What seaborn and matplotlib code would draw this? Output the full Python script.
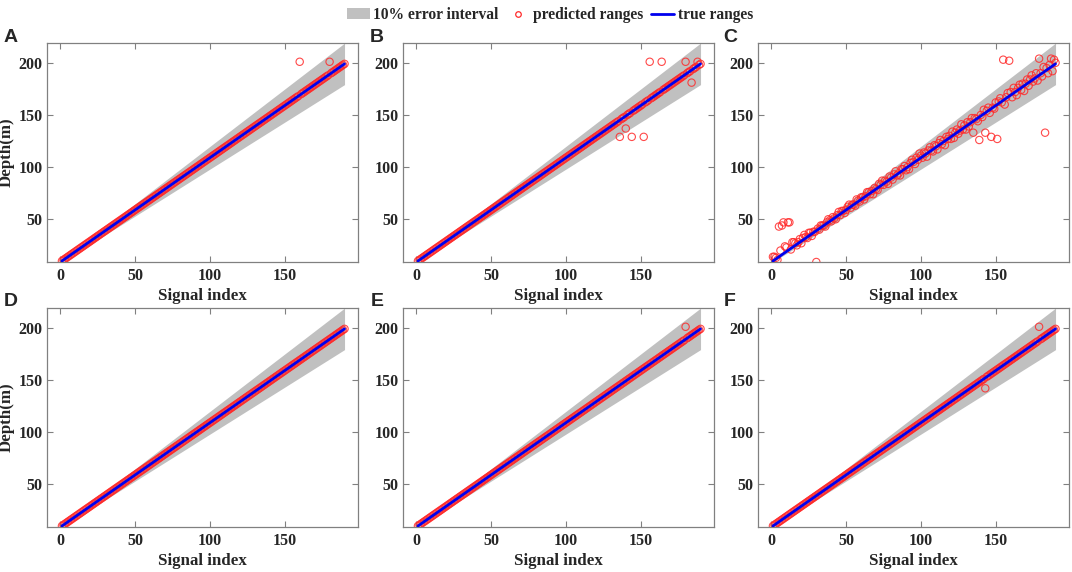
import numpy as np
import pandas as pd
import matplotlib
matplotlib.use("Agg")
import matplotlib.pyplot as plt
from matplotlib.patches import Patch
from matplotlib.lines import Line2D
import seaborn as sns

# true ranges: one depth per signal (m)
signal_index = list(range(1, 191))
true_depth = list(range(10, 200))

# predicted ranges sit on the true ranges except these points
a_out_idx = [160, 180]
a_out_val = [201, 201]
b_out_idx = [136, 140, 144, 152, 156, 164, 180, 184, 188]
b_out_val = [129, 137, 129, 129, 201, 201, 201, 181, 201]
d_out_idx = []
d_out_val = []
e_out_idx = [180]
e_out_val = [201]
f_out_idx = [143, 179]
f_out_val = [142, 201]

# panel C scatters around the true range (offsets in m)
c_dev = [4, 3, 1, -2, 2, 5, 3, 1, 6, 4,
         2, 3, -1, 5, 4, 2, -1, 1, 3, -2,
         2, 4, 1, -1, 3, 2, -2, 1, 0, 2,
         1, -1, 2, 1, 0, -2, 1, 3, 1, -1,
         2, 0, -2, 1, 3, -1, 2, 1, -2, 0,
         2, 3, -1, 1, 0, -2, 3, 1, -1, 2,
         1, -2, 0, 3, 2, -1, 1, -3, 2, 0,
         -2, 3, 1, 4, -1, 2, 0, -3, 3, 1,
         -2, 2, 4, -1, 0, -3, 2, 1, 3, -2,
         0, -3, 2, 4, 1, -2, 3, 0, 5, 2,
         -1, 3, 1, -3, 2, 4, 0, -2, 3, 1,
         -3, 2, 4, -1, 1, -4, 3, 0, 2, -2,
         4, -3, 1, 3, -2, 0, 5, -1, 2, -3,
         3, -2, 1, 4, -4, 2, 0, -3, 3, 1,
         -2, 4, -4, 1, 3, -3, 5, 0, -2, 3,
         -4, 2, 4, -1, 3, -5, 1, 4, -2, 3,
         -3, 5, 0, -4, 2, 4, -2, 3, -5, 1,
         4, -3, 2, 5, -2, 0, 4, -4, 3, 1,
         -3, 5, -2, 2, -4, 3, 0, -5, 2, 1]
c_out_idx = [5, 7, 8, 11, 12, 30, 135, 139, 143, 147, 151, 155, 159, 179, 183, 187, 189]
c_out_val = [43, 44, 47, 47, 47, 9, 133, 126, 133, 129, 127, 203, 202, 204, 133, 204, 203]


def predicted(out_idx, out_val, dev=None):
    if dev is None:
        vals = list(true_depth)
    else:
        vals = [t + d for t, d in zip(true_depth, dev)]
    for i, v in zip(out_idx, out_val):
        vals[i - 1] = v
    return vals


panels = {
    "A": predicted(a_out_idx, a_out_val),
    "B": predicted(b_out_idx, b_out_val),
    "C": predicted(c_out_idx, c_out_val, c_dev),
    "D": predicted(d_out_idx, d_out_val),
    "E": predicted(e_out_idx, e_out_val),
    "F": predicted(f_out_idx, f_out_val),
}

sns.set_style("ticks")
plt.rcParams["font.family"] = ["Liberation Serif", "DejaVu Serif"]
plt.rcParams["font.weight"] = "bold"
plt.rcParams["axes.labelweight"] = "bold"

band_col = "#c0c0c0"
spine_col = "#808080"

fig = plt.figure(figsize=(10.72, 5.72), dpi=100)

lefts = [47 / 1072, 403 / 1072, 758 / 1072]
bottoms = [1 - 262 / 572, 1 - 527 / 572]
w = 311 / 1072
h = 219 / 572
letter_x = [11 / 1072, 377 / 1072, 730 / 1072]
letter_y = [1 - 37 / 572, 1 - 301 / 572]

true = np.array(true_depth)
for k, (name, pred) in enumerate(panels.items()):
    r, c = divmod(k, 3)
    ax = fig.add_axes([lefts[c], bottoms[r], w, h])
    ax.fill_between(signal_index, true * 0.9, true * 1.1, color=band_col, lw=0, zorder=1)
    df = pd.DataFrame({"Signal": signal_index, "Pred": pred, "True": true_depth})
    sns.scatterplot(data=df, x="Signal", y="Pred", ax=ax, marker="o", s=28,
                    facecolor="none", edgecolor="#ff2a2a", linewidth=0.8,
                    alpha=0.85, zorder=2)
    sns.lineplot(data=df, x="Signal", y="True", ax=ax, color="#0000ee", lw=2, zorder=3)
    ax.set_xlim(-9, 199)
    ax.set_ylim(9, 219)
    ax.set_xticks([0, 50, 100, 150])
    ax.set_yticks([50, 100, 150, 200])
    ax.tick_params(direction="in", top=True, right=True, length=4, width=0.8,
                   color=spine_col, labelsize=11.5, pad=3)
    ax.tick_params(axis="x", pad=4)
    for sp in ax.spines.values():
        sp.set_color(spine_col)
        sp.set_linewidth(0.9)
    ax.set_xlabel("Signal index", fontsize=12.2)
    ax.xaxis.set_label_coords(0.5, -0.118)
    if c == 0:
        ax.set_ylabel("Depth(m)", fontsize=12.2)
        ax.yaxis.set_label_coords(-0.103, 0.5)
    else:
        ax.set_ylabel("")
    fig.text(letter_x[c], letter_y[r], name, fontsize=14, fontweight="bold",
             family=["Liberation Sans", "DejaVu Sans"], ha="center", va="center")

handles = [
    Patch(facecolor=band_col, edgecolor="none"),
    Line2D([], [], ls="none", marker="o", markersize=4, markerfacecolor="none",
           markeredgecolor="#ff2a2a", markeredgewidth=0.9),
    Line2D([], [], color="#0000ee", lw=2),
]
labels = ["10% error interval", "predicted ranges", "true ranges"]
fig.legend(handles, labels, loc="upper center", bbox_to_anchor=(0.513, 1.012), ncol=3,
           frameon=False, handlelength=1.5, handletextpad=0.2,
           columnspacing=0.5, prop={"weight": "bold", "size": 11.2})

fig.savefig("out.png", dpi=100)
